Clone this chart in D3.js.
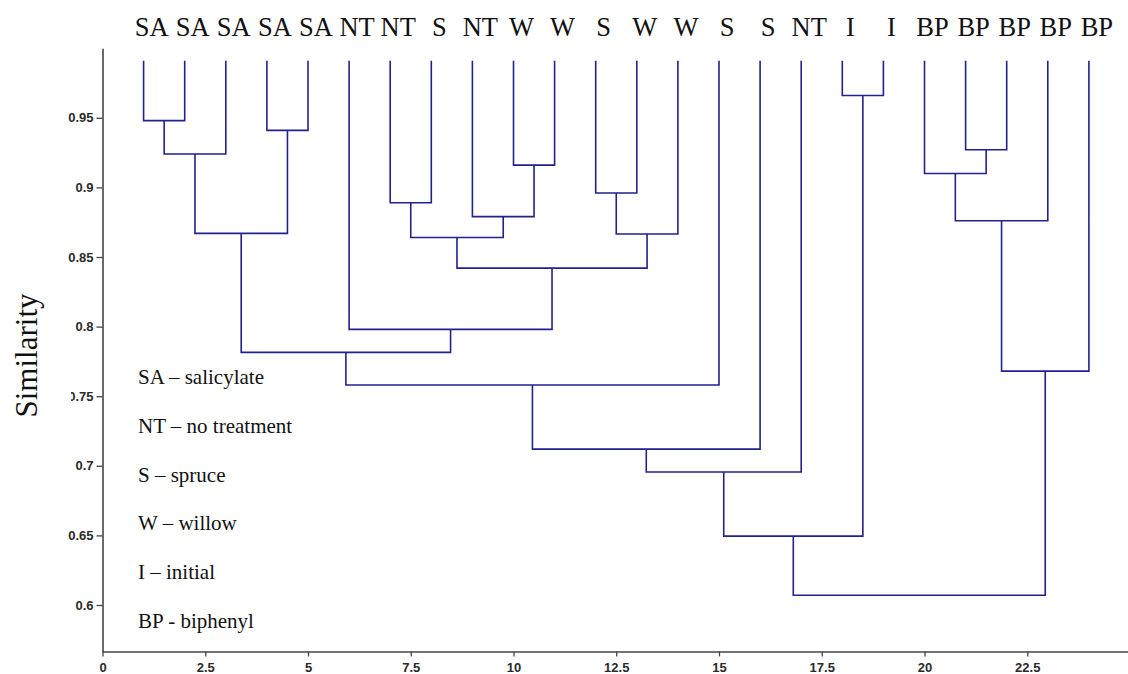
<!DOCTYPE html>
<html>
<head>
<meta charset="utf-8">
<script src="https://cdn.jsdelivr.net/npm/d3@7"></script>
<style>
  html, body { margin: 0; padding: 0; background: #fff; }
  svg { display: block; }
</style>
</head>
<body>
<svg id="chart" width="1128" height="674"></svg>
<script>
// Leaf labels, left to right
const leafLabels = ["SA","SA","SA","SA","SA","NT","NT","S","NT","W","W","S","W","W","S","S","NT","I","I","BP","BP","BP","BP","BP"];

// Agglomeration steps: leaves are ids 0..23, step k creates cluster id 24 + k
const mergeLeft  = [17, 0, 3, 20, 25,  9, 19, 11, 6,  8, 30, 28, 31, 32, 37,  5, 35, 34, 40, 42, 43, 44, 45];
const mergeRight = [18, 1, 4, 21,  2, 10, 27, 12, 7, 29, 22, 26, 13, 33, 36, 38, 39, 23, 14, 15, 16, 24, 41];
const mergeSimilarity = [0.966, 0.948, 0.941, 0.927, 0.924, 0.916, 0.910, 0.896, 0.889, 0.879, 0.876,
                         0.867, 0.8665, 0.864, 0.842, 0.798, 0.7815, 0.768, 0.758, 0.712, 0.6955, 0.6495, 0.607];
const leafSimilarity = 0.991;

// Axis ticks
const xTickValues = [0, 2.5, 5, 7.5, 10, 12.5, 15, 17.5, 20, 22.5];
const xTickLabels = ["0", "2.5", "5", "7.5", "10", "12.5", "15", "17.5", "20", "22.5"];
const yTickValues = [0.6, 0.65, 0.7, 0.75, 0.8, 0.85, 0.9, 0.95];
const yTickLabels = ["0.6", "0.65", "0.7", "0.75", "0.8", "0.85", "0.9", "0.95"];

// Key to the group codes
const legendItems = ["SA \u2013 salicylate", "NT \u2013 no treatment", "S \u2013 spruce",
                     "W \u2013 willow", "I \u2013 initial", "BP - biphenyl"];

const svg = d3.select("#chart");
const lineColor = "#22228f";
const axisColor = "#444";

const x = d3.scaleLinear().domain([0, 25]).range([102.5, 1130]);
const y = d3.scaleLinear().domain([0.5666, 1.0]).range([651.5, 48.2]);

// Axes
const xAxis = d3.axisBottom(x)
  .tickValues(xTickValues)
  .tickFormat((d, i) => xTickLabels[i])
  .tickSize(5).tickSizeOuter(0);
const yAxis = d3.axisLeft(y)
  .tickValues(yTickValues)
  .tickFormat((d, i) => yTickLabels[i])
  .tickSize(6).tickSizeOuter(0);

const gx = svg.append("g").attr("transform", `translate(0,${y.range()[0]})`).call(xAxis);
const gy = svg.append("g").attr("transform", `translate(${x.range()[0]},0)`).call(yAxis);
[gx, gy].forEach(g => {
  g.select(".domain").attr("stroke", axisColor).attr("stroke-width", 1.6);
  g.selectAll(".tick line").attr("stroke", axisColor).attr("stroke-width", 1.3);
  g.selectAll(".tick text")
    .attr("fill", "#2a2a2a")
    .style("font-family", "'Liberation Sans', Arial, sans-serif")
    .style("font-size", "13px")
    .style("font-weight", "bold");
});
gx.selectAll(".tick text").attr("dy", null).attr("y", 20);
gy.selectAll(".tick text").attr("x", -9);

// Build cluster geometry
const nodes = leafLabels.map((lab, i) => ({ pos: i + 1, sim: leafSimilarity }));
mergeLeft.forEach((l, k) => {
  const r = mergeRight[k];
  nodes.push({ pos: (nodes[l].pos + nodes[r].pos) / 2, sim: mergeSimilarity[k], left: l, right: r });
});

const links = nodes.filter(n => n.left !== undefined);
svg.append("g")
  .attr("fill", "none")
  .attr("stroke", lineColor)
  .attr("stroke-width", 1.6)
  .selectAll("path")
  .data(links)
  .join("path")
  .attr("d", n => {
    const a = nodes[n.left], b = nodes[n.right];
    return `M${x(a.pos)},${y(a.sim)}V${y(n.sim)}H${x(b.pos)}V${y(b.sim)}`;
  });

// Leaf labels across the top
svg.append("g")
  .selectAll("text")
  .data(leafLabels)
  .join("text")
  .attr("x", (d, i) => x(i + 1) + 8)
  .attr("y", 36)
  .attr("text-anchor", "middle")
  .style("font-family", "'Liberation Serif', 'Times New Roman', serif")
  .style("font-size", "26.5px")
  .attr("fill", "#111")
  .text(d => d);

// Key
svg.append("g")
  .selectAll("text")
  .data(legendItems)
  .join("text")
  .attr("x", 138)
  .attr("y", (d, i) => 384 + i * 48.8)
  .style("font-family", "'Liberation Serif', 'Times New Roman', serif")
  .style("font-size", "21px")
  .attr("fill", "#111")
  .text(d => d);

// Y axis title on its own white box
const title = svg.append("g");
title.append("rect")
  .attr("x", 0).attr("y", 285).attr("width", 71).attr("height", 140)
  .attr("fill", "#fff");
title.append("text")
  .attr("transform", "translate(37,355.5) rotate(-90)")
  .attr("text-anchor", "middle")
  .style("font-family", "'Liberation Serif', 'Times New Roman', serif")
  .style("font-size", "31px")
  .attr("fill", "#111")
  .text("Similarity");
</script>
</body>
</html>
